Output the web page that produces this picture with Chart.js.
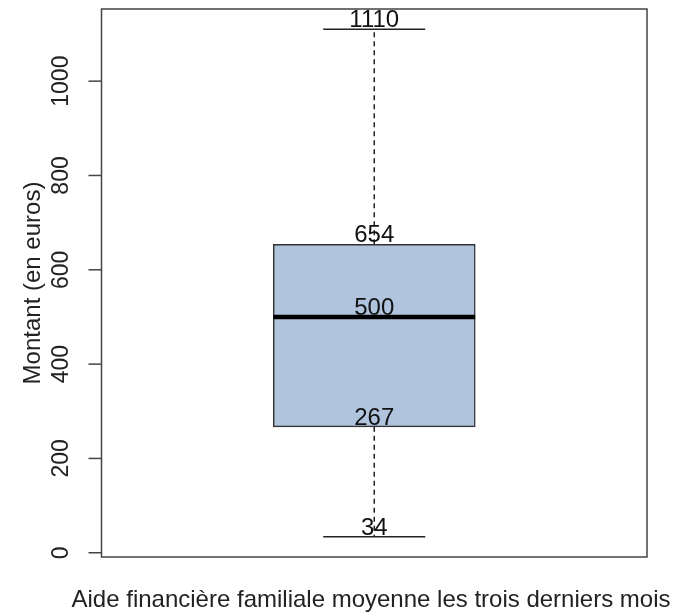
<!DOCTYPE html>
<html>
<head>
<meta charset="utf-8">
<script src="https://cdn.jsdelivr.net/npm/chart.js@4/dist/chart.umd.min.js"></script>
<style>
  html, body { margin: 0; padding: 0; background: #fff; }
  #wrap { width: 673px; height: 614px; }
</style>
</head>
<body>
<div id="wrap"><canvas id="boxChart"></canvas></div>
<script>
// boxplot stats: min, q1, median, q3, max
var statValues = [34, 267, 500, 654, 1110];
var statLabels = ['34', '267', '500', '654', '1110'];
var yTicks = [0, 200, 400, 600, 800, 1000];
var yTitle = 'Montant (en euros)';
var xTitle = 'Aide financière familiale moyenne les trois derniers mois';

var boxPos = 1;
var boxHalf = 0.185;
var capHalf = 0.0935;
var FONT = '"Liberation Sans", Arial, sans-serif';

var lo = statValues[0], q1 = statValues[1], med = statValues[2], q3 = statValues[3], hi = statValues[4];

// frame, rotated tick labels, titles and value labels
var rPlot = {
    id: 'rPlot',
    afterDraw: function (chart) {
        var ctx = chart.ctx, a = chart.chartArea;
        var y = chart.scales.y;
        var x = chart.scales.x;
        ctx.save();
        ctx.strokeStyle = '#444';
        ctx.lineWidth = 1.5;
        ctx.strokeRect(a.left, a.top, a.right - a.left, a.bottom - a.top);

        // tick marks + rotated labels
        ctx.fillStyle = '#222';
        ctx.font = '23px ' + FONT;
        ctx.textAlign = 'center';
        ctx.textBaseline = 'alphabetic';
        yTicks.forEach(function (t) {
            var py = y.getPixelForValue(t);
            ctx.beginPath();
            ctx.moveTo(a.left - 13, py);
            ctx.lineTo(a.left, py);
            ctx.stroke();
            ctx.save();
            ctx.translate(68, py);
            ctx.rotate(-Math.PI / 2);
            ctx.fillText(String(t), 0, 0);
            ctx.restore();
        });

        // titles
        ctx.font = '24px ' + FONT;
        ctx.save();
        ctx.translate(40, (a.top + a.bottom) / 2);
        ctx.rotate(-Math.PI / 2);
        ctx.fillText(yTitle, 0, 0);
        ctx.restore();
        ctx.fillText(xTitle, 371, 607);

        // value labels above each stat
        ctx.fillStyle = '#111';
        statValues.forEach(function (v, i) {
            ctx.fillText(statLabels[i], x.getPixelForValue(boxPos), y.getPixelForValue(v) - 2);
        });
        ctx.restore();
    }
};

var ctx = document.getElementById('boxChart');
var myChart = new Chart(ctx, {
    data: {
        datasets: [
            {
                // median
                type: 'line',
                order: 0,
                data: [{ x: boxPos - boxHalf, y: med }, { x: boxPos + boxHalf, y: med }],
                borderColor: '#000',
                borderWidth: 4.5,
                pointRadius: 0
            },
            {
                // caps
                type: 'line',
                order: 1,
                data: [
                    { x: boxPos - capHalf, y: hi }, { x: boxPos + capHalf, y: hi },
                    { x: boxPos, y: null },
                    { x: boxPos - capHalf, y: lo }, { x: boxPos + capHalf, y: lo }
                ],
                borderColor: '#222',
                borderWidth: 1.5,
                pointRadius: 0,
                spanGaps: false
            },
            {
                // whiskers
                type: 'line',
                order: 2,
                data: [
                    { x: boxPos, y: q3 }, { x: boxPos, y: hi },
                    { x: boxPos, y: null },
                    { x: boxPos, y: q1 }, { x: boxPos, y: lo }
                ],
                borderColor: '#111',
                borderWidth: 1.4,
                borderDash: [5, 4],
                pointRadius: 0,
                spanGaps: false
            },
            {
                // box
                type: 'bar',
                order: 3,
                data: [{ x: boxPos, y: [q1, q3] }],
                backgroundColor: '#B0C4DE',
                borderColor: '#333',
                borderWidth: 1.5,
                borderSkipped: false,
                barThickness: 202
            }
        ]
    },
    options: {
        responsive: true,
        maintainAspectRatio: false,
        animation: false,
        layout: { padding: { top: 9, right: 26, left: 0, bottom: 0 } },
        plugins: { legend: { display: false }, tooltip: { enabled: false } },
        scales: {
            x: {
                type: 'linear',
                min: 0.5,
                max: 1.5,
                offset: false,
                grid: { display: false },
                border: { display: false },
                ticks: { display: false },
                afterFit: function (s) { s.height = 57; }
            },
            y: {
                min: -9,
                max: 1153,
                grid: { display: false },
                border: { display: false },
                ticks: { display: false },
                afterFit: function (s) { s.width = 101.5; }
            }
        }
    },
    plugins: [rPlot]
});
</script>
</body>
</html>
